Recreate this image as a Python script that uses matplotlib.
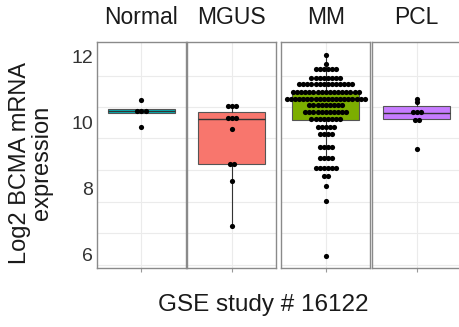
import numpy as np
import matplotlib.pyplot as plt

plt.rcParams['font.family'] = ['Liberation Sans', 'DejaVu Sans']

groups = ['Normal', 'MGUS', 'MM', 'PCL']
colors = ['#00BFC4', '#F8766D', '#7CAE00', '#C77CFF']

# dot rows: binned expression value and how many samples sit in that bin
normal_vals = [10.68, 10.36, 9.87]
normal_counts = [1, 3, 1]
mgus_vals = [10.51, 10.15, 9.81, 8.75, 8.23, 6.87]
mgus_counts = [3, 3, 1, 2, 1, 1]
mm_vals = [12.07, 11.78, 11.62, 11.35, 11.19, 10.94, 10.72, 10.53, 10.32, 10.10,
           9.87, 9.67, 9.26, 8.92, 8.61, 8.38, 8.08, 7.61, 5.96]
mm_counts = [1, 1, 6, 8, 14, 17, 20, 9, 11, 8, 5, 4, 4, 4, 6, 2, 1, 1, 1]
pcl_vals = [10.72, 10.63, 10.33, 10.08, 9.19]
pcl_counts = [1, 1, 3, 2, 1]

# box summaries per group
box_q1 = [10.28, 8.75, 10.07, 10.10]
box_med = [10.36, 10.10, 10.75, 10.28]
box_q3 = [10.42, 10.32, 10.89, 10.50]
box_lo = [10.28, 6.87, 8.92, 10.08]
box_hi = [10.42, 10.51, 12.07, 10.72]

yticks = [6, 8, 10, 12]
grid_y = [11.43, 10.48, 9.53, 8.56, 7.60, 6.64, 5.68]

dot_vals = [normal_vals, mgus_vals, mm_vals, pcl_vals]
dot_counts = [normal_counts, mgus_counts, mm_counts, pcl_counts]

W, H = 460, 327
fig = plt.figure(figsize=(W / 100, H / 100), dpi=100)

lefts = [97, 187.3, 281.3, 372.3]
top, bottom = 41.7, 267.5
dx = 0.0553

for i, g in enumerate(groups):
    ax = fig.add_axes([lefts[i] / W, 1 - bottom / H, 89 / W, (bottom - top) / H])
    ax.set_xlim(-0.6, 0.6)
    ax.set_ylim(5.6, 12.46)
    for gy in grid_y:
        ax.axhline(gy, color='#ebebeb', lw=0.8, zorder=0)
    ax.axvline(0, color='#ebebeb', lw=0.8, zorder=0)

    stats = [dict(q1=box_q1[i], med=box_med[i], q3=box_q3[i],
                  whislo=box_lo[i], whishi=box_hi[i], fliers=[])]
    ax.bxp(stats, positions=[0], widths=0.9, patch_artist=True,
           showcaps=False, showfliers=False,
           boxprops=dict(facecolor=colors[i], edgecolor='#555555', lw=0.8),
           medianprops=dict(color='#333333', lw=1.0),
           whiskerprops=dict(color='#333333', lw=0.8))

    for v, n in zip(dot_vals[i], dot_counts[i]):
        xs = (np.arange(n) - (n - 1) / 2) * dx
        ax.scatter(xs, [v] * n, s=14, color='black', linewidths=0,
                   zorder=3, clip_on=False)

    ax.set_xticks([0])
    ax.set_xticklabels([''])
    ax.tick_params(axis='x', length=3, color='#999999', width=0.8)
    if i == 0:
        ax.set_yticks(yticks)
        ax.set_yticklabels([str(t) for t in yticks], fontsize=14, color='#333333')
        ax.tick_params(axis='y', length=0, pad=3)
    else:
        ax.set_yticks([])
    for s in ax.spines.values():
        s.set_color('#8a8a8a')
        s.set_linewidth(1.0)

    fig.text((lefts[i] + 44.5) / W, 1 - 18 / H, g, ha='center', va='center',
             fontsize=16.5, color='#1a1a1a')

fig.text(31 / W, 1 - 163 / H, 'Log2 BCMA mRNA\nexpression', rotation=90,
         ha='center', va='center', fontsize=17, color='#1a1a1a', linespacing=1.0)
fig.text(263 / W, 1 - 305 / H, 'GSE study # 16122', ha='center', va='center',
         fontsize=17.5, color='#1a1a1a')

fig.savefig('out.png', dpi=100)
